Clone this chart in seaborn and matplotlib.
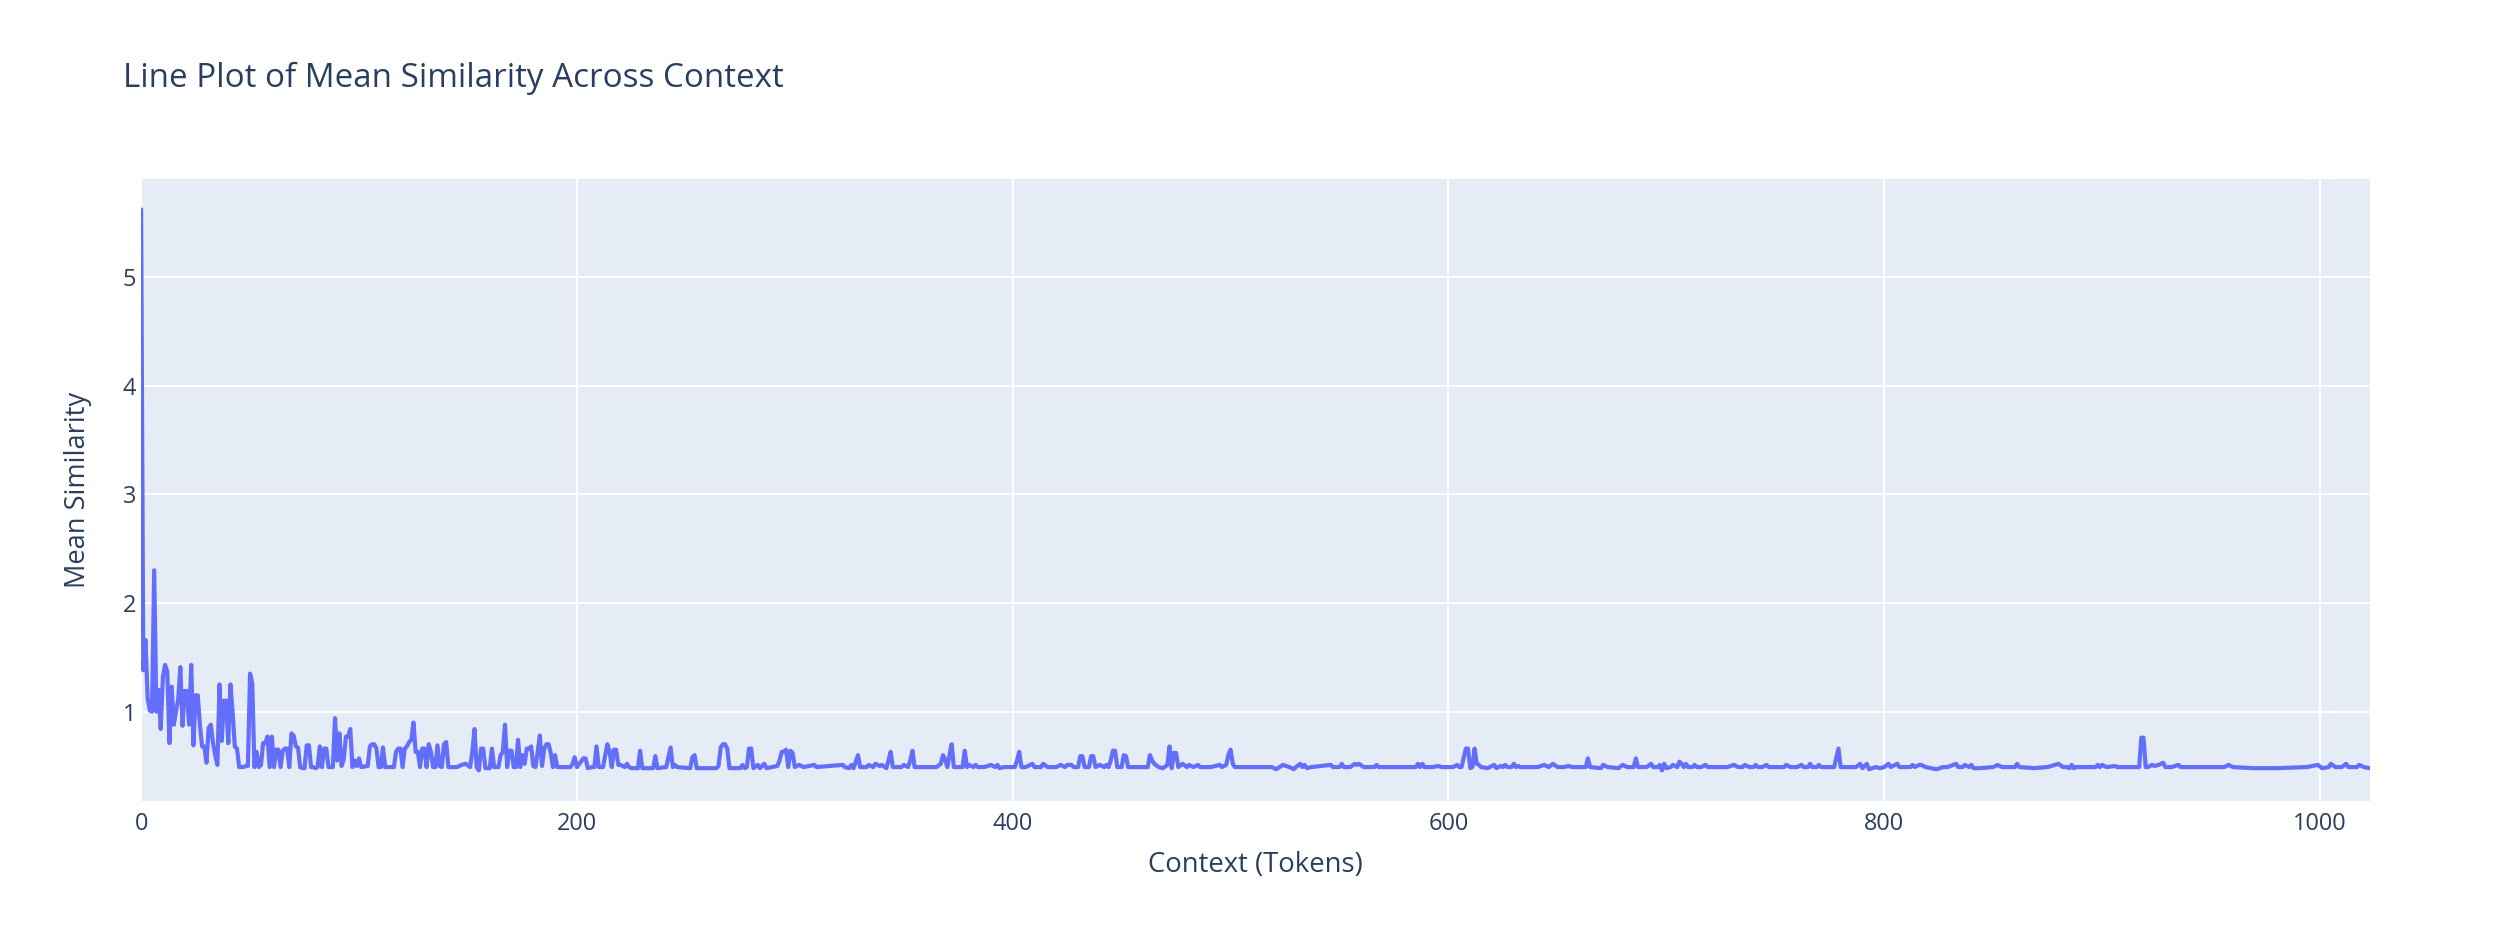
import matplotlib
matplotlib.use('Agg')
import matplotlib.pyplot as plt
import seaborn as sns
import pandas as pd

# values (token index -> mean similarity)
tok_0_68 = [0, 1, 2, 3, 4, 5, 6, 7, 8, 9,
            10, 11, 12, 13, 14, 15, 16, 17, 18, 19,
            20, 21, 22, 23, 24, 25, 26, 27, 28, 29,
            30, 31, 32, 33, 34, 35, 36, 37, 38, 39,
            40, 41, 42, 43, 44, 45, 46, 47, 48, 49,
            50, 51, 52, 53, 54, 55, 56, 57, 58, 59,
            60, 61, 62, 63, 64, 65, 66, 67, 68]
sim_0_68 = [5.62, 1.38, 1.66, 1.12, 1.01, 1.00, 2.30, 1.00, 1.20, 0.84,
            1.32, 1.43, 1.37, 0.71, 1.23, 0.88, 1.00, 1.11, 1.41, 0.87,
            1.19, 1.19, 0.88, 1.43, 0.69, 1.15, 1.15, 0.87, 0.68, 0.68,
            0.53, 0.85, 0.88, 0.71, 0.60, 0.51, 1.25, 0.73, 1.10, 1.10,
            0.71, 1.25, 0.99, 0.68, 0.66, 0.49, 0.49, 0.49, 0.50, 0.50,
            1.35, 1.26, 0.49, 0.63, 0.49, 0.51, 0.71, 0.71, 0.77, 0.49,
            0.77, 0.49, 0.65, 0.65, 0.49, 0.64, 0.66, 0.66, 0.49]

tok_69_200 = [69, 70, 71, 72, 73, 74, 75, 76, 77, 78, 79, 80, 81, 82, 83, 84, 85, 86,
              88, 89, 90, 91, 92, 93, 94, 95, 96, 97, 98, 99, 100, 101,
              104, 105, 106, 107, 108, 109, 110, 111, 112,
              116, 117, 118, 119, 120, 121, 122, 123, 124, 125, 126, 127, 128,
              129, 130, 131, 132, 133, 134, 135, 136, 137, 138, 139, 140, 141,
              145, 147, 149, 151,
              152, 153, 154, 155, 156, 157, 158,
              160, 161, 162, 164, 165, 166, 167, 168, 169, 170, 171, 172, 173, 174, 175, 176,
              177, 178, 179, 180, 181, 182, 183, 184, 185, 186, 187, 188, 189, 190, 191,
              197, 198, 199, 200]
sim_69_200 = [0.80, 0.78, 0.68, 0.67, 0.49, 0.48, 0.48, 0.69, 0.69, 0.49, 0.49, 0.48, 0.49, 0.68, 0.49, 0.66, 0.66, 0.49,
              0.49, 0.94, 0.55, 0.80, 0.50, 0.56, 0.77, 0.77, 0.84, 0.49, 0.55, 0.50, 0.57, 0.49,
              0.50, 0.68, 0.70, 0.70, 0.66, 0.49, 0.49, 0.67, 0.49,
              0.49, 0.63, 0.66, 0.66, 0.49, 0.66, 0.68, 0.72, 0.74, 0.90, 0.63, 0.63, 0.49,
              0.66, 0.66, 0.49, 0.70, 0.63, 0.49, 0.49, 0.69, 0.50, 0.49, 0.70, 0.72, 0.49,
              0.49, 0.51, 0.52, 0.49,
              0.63, 0.84, 0.49, 0.46, 0.66, 0.66, 0.48,
              0.48, 0.66, 0.49, 0.49, 0.60, 0.63, 0.88, 0.49, 0.64, 0.64, 0.49, 0.49, 0.74, 0.49, 0.60, 0.52,
              0.66, 0.66, 0.68, 0.50, 0.49, 0.63, 0.78, 0.50, 0.66, 0.70, 0.70, 0.62, 0.49, 0.60, 0.49,
              0.49, 0.52, 0.58, 0.49]

tok_201_350 = [203, 204, 205, 207, 208, 209, 210, 212, 213, 214,
               215, 216, 217, 218, 219, 220, 222, 223, 224, 225,
               228, 229, 230, 235, 236, 237, 241, 242, 243, 244,
               245, 246, 252, 253, 254, 255, 264, 265, 266, 267,
               268, 269, 270, 275, 276, 277, 278, 279, 280, 281,
               283, 284, 286, 287, 292, 293, 294, 295, 296, 297,
               298, 299, 300, 302, 304, 309, 310, 322, 323, 325,
               326, 327, 329, 330, 333, 334, 336, 337, 339, 340,
               342, 343, 344, 345, 349, 350]
sim_201_350 = [0.57, 0.57, 0.48, 0.49, 0.49, 0.68, 0.49, 0.49, 0.60, 0.70,
               0.63, 0.49, 0.65, 0.65, 0.51, 0.51, 0.49, 0.52, 0.49, 0.48,
               0.48, 0.64, 0.48, 0.48, 0.59, 0.48, 0.49, 0.58, 0.67, 0.49,
               0.51, 0.49, 0.48, 0.58, 0.60, 0.48, 0.48, 0.50, 0.67, 0.70,
               0.70, 0.66, 0.48, 0.48, 0.51, 0.48, 0.49, 0.66, 0.66, 0.48,
               0.51, 0.48, 0.52, 0.48, 0.50, 0.55, 0.63, 0.63, 0.65, 0.49,
               0.64, 0.62, 0.49, 0.51, 0.49, 0.51, 0.49, 0.51, 0.49, 0.48,
               0.51, 0.48, 0.60, 0.49, 0.49, 0.51, 0.49, 0.52, 0.50, 0.51,
               0.48, 0.55, 0.63, 0.49, 0.49, 0.51]

tok_351_502 = [352, 353, 354, 355, 362, 365, 367, 368, 369, 370,
               371, 372, 373, 377, 378, 379, 380, 382, 383, 384,
               387, 390, 392, 393, 394, 396, 401, 402, 403, 404,
               406, 409, 410, 413, 414, 416, 420, 422, 424, 425,
               427, 428, 430, 431, 432, 433, 435, 436, 437, 438,
               440, 442, 443, 444, 445, 446, 447, 448, 450, 451,
               452, 453, 462, 463, 464, 465, 467, 469, 471, 472,
               473, 474, 475, 476, 478, 480, 481, 483, 485, 486,
               491, 495, 496, 498, 499, 500, 501, 502]
sim_351_502 = [0.49, 0.55, 0.64, 0.49, 0.49, 0.49, 0.52, 0.60, 0.56, 0.49,
               0.60, 0.70, 0.49, 0.49, 0.64, 0.49, 0.51, 0.49, 0.51, 0.49,
               0.49, 0.51, 0.49, 0.51, 0.48, 0.49, 0.49, 0.55, 0.63, 0.49,
               0.49, 0.52, 0.49, 0.49, 0.52, 0.49, 0.49, 0.51, 0.49, 0.51,
               0.51, 0.49, 0.49, 0.59, 0.59, 0.49, 0.49, 0.59, 0.59, 0.49,
               0.51, 0.49, 0.51, 0.49, 0.55, 0.64, 0.64, 0.49, 0.49, 0.60,
               0.59, 0.49, 0.49, 0.60, 0.55, 0.52, 0.49, 0.48, 0.51, 0.68,
               0.48, 0.62, 0.62, 0.49, 0.52, 0.49, 0.51, 0.49, 0.51, 0.49,
               0.49, 0.51, 0.49, 0.51, 0.60, 0.65, 0.52, 0.49]

tok_503_650 = [513, 519, 521, 524, 527, 529, 530, 532, 533, 534,
               535, 537, 546, 547, 550, 551, 552, 555, 557, 558,
               559, 561, 564, 566, 567, 568, 585, 586, 587, 588,
               589, 593, 595, 597, 602, 604, 605, 606, 608, 609,
               610, 611, 612, 613, 614, 615, 618, 621, 622, 624,
               625, 626, 627, 629, 630, 631, 632, 633, 641, 644,
               646, 648, 650]
sim_503_650 = [0.49, 0.49, 0.47, 0.51, 0.49, 0.47, 0.49, 0.52, 0.49, 0.51,
               0.48, 0.49, 0.51, 0.49, 0.49, 0.52, 0.49, 0.49, 0.52, 0.51,
               0.52, 0.49, 0.49, 0.49, 0.51, 0.49, 0.49, 0.52, 0.49, 0.52,
               0.49, 0.49, 0.50, 0.49, 0.49, 0.51, 0.49, 0.49, 0.66, 0.66,
               0.48, 0.49, 0.66, 0.52, 0.51, 0.49, 0.48, 0.51, 0.48, 0.50,
               0.49, 0.51, 0.49, 0.49, 0.52, 0.49, 0.50, 0.49, 0.49, 0.51,
               0.49, 0.52, 0.49]

tok_651_800 = [653, 655, 657, 663, 664, 665, 670, 671, 673, 678,
               680, 682, 685, 686, 687, 691, 693, 694, 696, 697,
               698, 699, 700, 702, 703, 705, 706, 707, 708, 709,
               710, 712, 713, 714, 716, 718, 719, 728, 731, 733,
               735, 736, 738, 740, 741, 742, 744, 746, 747, 754,
               755, 757, 760, 762, 763, 765, 766, 767, 769, 770,
               771, 777, 779, 780, 787, 789, 790, 792, 793, 796,
               798, 800]
sim_651_800 = [0.49, 0.50, 0.49, 0.49, 0.57, 0.49, 0.48, 0.51, 0.49, 0.48,
               0.51, 0.49, 0.49, 0.57, 0.49, 0.49, 0.52, 0.49, 0.49, 0.51,
               0.46, 0.52, 0.48, 0.49, 0.51, 0.49, 0.54, 0.52, 0.49, 0.52,
               0.49, 0.49, 0.51, 0.49, 0.49, 0.51, 0.49, 0.49, 0.51, 0.49,
               0.49, 0.51, 0.49, 0.49, 0.51, 0.49, 0.49, 0.51, 0.49, 0.49,
               0.51, 0.49, 0.49, 0.51, 0.49, 0.49, 0.52, 0.49, 0.49, 0.51,
               0.49, 0.49, 0.66, 0.49, 0.49, 0.52, 0.48, 0.52, 0.47, 0.49,
               0.48, 0.49]

tok_801_1023 = [802, 803, 806, 807, 812, 813, 814, 816, 817, 819,
                824, 827, 829, 833, 834, 836, 837, 839, 840, 841,
                844, 850, 852, 854, 860, 861, 862, 869, 875, 880,
                882, 884, 885, 886, 887, 888, 897, 898, 899, 900,
                902, 906, 907, 915, 917, 918, 919, 920, 921, 923,
                924, 926, 928, 929, 932, 935, 936, 941, 947, 953,
                956, 958, 960, 969, 980, 994, 999, 1001, 1004, 1005,
                1007, 1010, 1012, 1013, 1017, 1018, 1020, 1023]
sim_801_1023 = [0.52, 0.49, 0.52, 0.49, 0.49, 0.51, 0.49, 0.51, 0.51, 0.49,
                0.47, 0.49, 0.49, 0.52, 0.49, 0.49, 0.51, 0.49, 0.51, 0.48,
                0.48, 0.49, 0.51, 0.49, 0.49, 0.52, 0.49, 0.48, 0.49, 0.52,
                0.49, 0.49, 0.48, 0.51, 0.48, 0.49, 0.49, 0.51, 0.49, 0.51,
                0.49, 0.50, 0.49, 0.49, 0.49, 0.76, 0.76, 0.49, 0.49, 0.51,
                0.50, 0.51, 0.53, 0.49, 0.49, 0.51, 0.49, 0.49, 0.49, 0.49,
                0.49, 0.51, 0.49, 0.48, 0.48, 0.49, 0.51, 0.48, 0.49, 0.52,
                0.49, 0.49, 0.52, 0.49, 0.49, 0.51, 0.49, 0.48]

x_ticks = [0, 200, 400, 600, 800, 1000]
y_ticks = [1, 2, 3, 4, 5]

tokens = tok_0_68 + tok_69_200 + tok_201_350 + tok_351_502 + tok_503_650 + tok_651_800 + tok_801_1023
similarity = sim_0_68 + sim_69_200 + sim_201_350 + sim_351_502 + sim_503_650 + sim_651_800 + sim_801_1023
assert len(tokens) == len(similarity)

df = pd.DataFrame({'Context (Tokens)': tokens, 'Mean Similarity': similarity})

sns.set_style('darkgrid', {'axes.facecolor': '#E5ECF6', 'grid.color': 'white'})
plt.rcParams['font.family'] = ['Open Sans', 'DejaVu Sans']

text_color = '#2a3f5f'

fig = plt.figure(figsize=(25.11, 9.43), dpi=100)
ax = fig.add_axes([0.0562, 0.1506, 0.8877, 0.6596])

sns.lineplot(data=df, x='Context (Tokens)', y='Mean Similarity',
             color='#636EFA', linewidth=3.0, estimator=None, sort=False, ax=ax)

ax.set_xlim(0, 1023)
ax.set_ylim(0.178, 5.90)
ax.set_xticks(x_ticks)
ax.set_yticks(y_ticks)
ax.grid(color='white', linewidth=1.5)
for s in ax.spines.values():
    s.set_visible(False)

ax.tick_params(axis='both', length=0, labelsize=16.9, colors=text_color)
ax.tick_params(axis='x', pad=8)
ax.tick_params(axis='y', pad=3.5)

ax.set_xlabel('Context (Tokens)', fontsize=19.8, color=text_color, va='center')
ax.set_ylabel('Mean Similarity', fontsize=19.6, color=text_color, va='center')
ax.xaxis.set_label_coords(0.5, -0.103)
ax.yaxis.set_label_coords(-0.0283, 0.5)

fig.text(0.049, 0.917, 'Line Plot of Mean Similarity Across Context',
         fontsize=23.9, color=text_color, ha='left', va='center')

fig.savefig('out.png', dpi=100)
